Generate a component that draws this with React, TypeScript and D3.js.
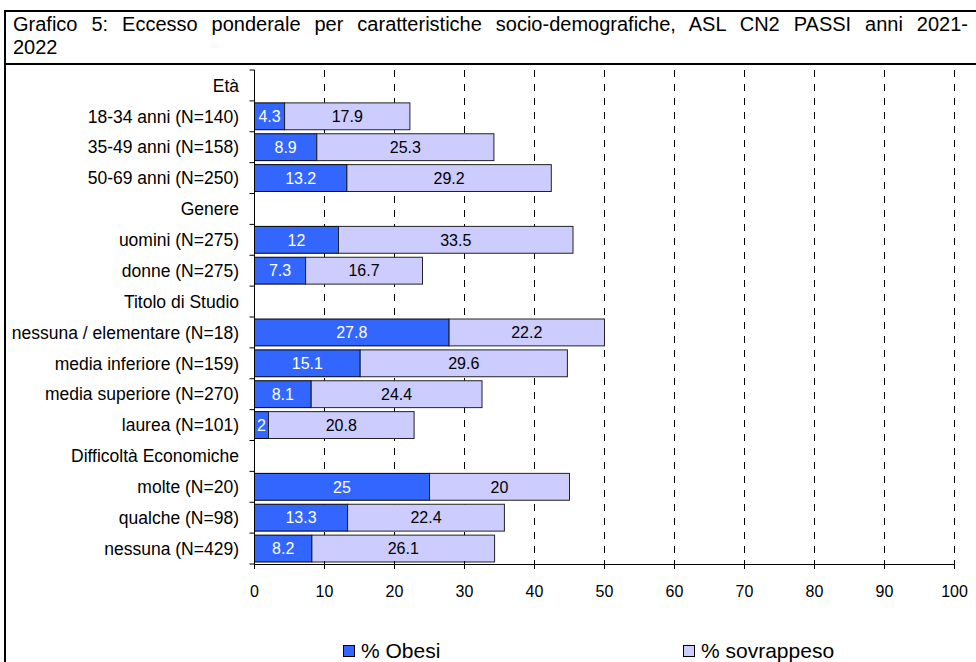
import React, { useLayoutEffect, useRef } from "react";
import * as d3 from "d3";

const categories = [
  "Età",
  "18-34 anni (N=140)",
  "35-49 anni (N=158)",
  "50-69 anni (N=250)",
  "Genere",
  "uomini (N=275)",
  "donne (N=275)",
  "Titolo di Studio",
  "nessuna / elementare (N=18)",
  "media inferiore (N=159)",
  "media superiore (N=270)",
  "laurea (N=101)",
  "Difficoltà Economiche",
  "molte (N=20)",
  "qualche (N=98)",
  "nessuna (N=429)",
];
const obesi: (number | null)[] = [null, 4.3, 8.9, 13.2, null, 12, 7.3, null, 27.8, 15.1, 8.1, 2, null, 25, 13.3, 8.2];
const sovrappeso: (number | null)[] = [null, 17.9, 25.3, 29.2, null, 33.5, 16.7, null, 22.2, 29.6, 24.4, 20.8, null, 20, 22.4, 26.1];
const xTicks = [0, 10, 20, 30, 40, 50, 60, 70, 80, 90, 100];
const seriesNames = ["% Obesi", "% sovrappeso"];
const title1 = "Grafico 5: Eccesso ponderale per caratteristiche socio-demografiche, ASL CN2 PASSI anni 2021-";
const title2 = "2022";

const FONT = "'Liberation Sans', Arial, Helvetica, sans-serif";
const C_OB = "#3366FF";
const C_SO = "#CCCCFF";

export default function App() {
  const titleRef = useRef<SVGTextElement>(null);
  const x = d3.scaleLinear().domain([0, 100]).range([254.5, 954.5]);
  const y = d3.scaleBand<string>().domain(categories).range([70, 564]).paddingInner(0.13).paddingOuter(0.065);
  const step = y.step();

  useLayoutEffect(() => {
    const el = titleRef.current;
    if (!el) return;
    el.setAttribute("word-spacing", "0");
    const w = el.getComputedTextLength();
    const nSpaces = (title1.match(/ /g) || []).length;
    const target = 968 - 13;
    const ws = (target - w) / nSpaces;
    el.setAttribute("word-spacing", String(Math.max(0, ws)));
  }, []);

  return (
    <svg width={976} height={662} style={{ position: "absolute", left: 0, top: 0, fontFamily: FONT }}>
      <rect x={0} y={0} width={976} height={662} fill="#fff" />
      {/* frame */}
      <rect x={5} y={11} width={1000} height={700} fill="none" stroke="#000" strokeWidth={2} />
      <line x1={5} x2={976} y1={64} y2={64} stroke="#000" strokeWidth={2} />
      <text ref={titleRef} x={13} y={31} fontSize={20} fill="#000">{title1}</text>
      <text x={13} y={54} fontSize={20} fill="#000">{title2}</text>

      {/* grid lines */}
      {xTicks.filter((t) => t > 0).map((t) => (
        <line key={"g" + t} x1={x(t)} x2={x(t)} y1={70} y2={564} stroke="#000" strokeWidth={1} strokeDasharray="7,7" />
      ))}

      {/* bars */}
      {categories.map((c, i) => {
        const o = obesi[i];
        const s = sovrappeso[i];
        if (o == null || s == null) return null;
        const y0 = y(c)!;
        const h = y.bandwidth();
        return (
          <g key={"b" + i}>
            <rect x={x(0)} y={y0} width={x(o) - x(0)} height={h} fill={C_OB} stroke="#000" strokeWidth={1} />
            <rect x={x(o)} y={y0} width={x(o + s) - x(o)} height={h} fill={C_SO} stroke="#222" strokeWidth={1} />
            <text x={(x(0) + x(o)) / 2} y={y0 + h / 2} dy="0.36em" textAnchor="middle" fontSize={16} fill="#fff">{String(o)}</text>
            <text x={(x(o) + x(o + s)) / 2} y={y0 + h / 2} dy="0.36em" textAnchor="middle" fontSize={16} fill="#000">{String(s)}</text>
          </g>
        );
      })}

      {/* y axis */}
      <line x1={x(0)} x2={x(0)} y1={70} y2={564} stroke="#000" strokeWidth={1} />
      {d3.range(categories.length + 1).map((i) => (
        <line key={"yt" + i} x1={x(0) - 5} x2={x(0)} y1={70 + i * step} y2={70 + i * step} stroke="#000" strokeWidth={1} />
      ))}
      {categories.map((c) => (
        <text key={"yl" + c} x={239} y={y(c)! + y.bandwidth() / 2} dy="0.36em" textAnchor="end" fontSize={17.5} fill="#000">{c}</text>
      ))}

      {/* x axis */}
      <line x1={x(0)} x2={x(100)} y1={564.5} y2={564.5} stroke="#000" strokeWidth={1} />
      {xTicks.map((t) => (
        <g key={"xt" + t}>
          <line x1={x(t)} x2={x(t)} y1={561} y2={569} stroke="#000" strokeWidth={1} />
          <text x={x(t)} y={597} textAnchor="middle" fontSize={16} fill="#000">{t}</text>
        </g>
      ))}

      {/* legend */}
      <rect x={343.5} y={645.5} width={11} height={11} fill={C_OB} stroke="#000" strokeWidth={1} />
      <text x={361} y={658} fontSize={21} fill="#000">{seriesNames[0]}</text>
      <rect x={683.5} y={645.5} width={11} height={11} fill={C_SO} stroke="#000" strokeWidth={1} />
      <text x={701} y={658} fontSize={21} fill="#000">{seriesNames[1]}</text>
    </svg>
  );
}
